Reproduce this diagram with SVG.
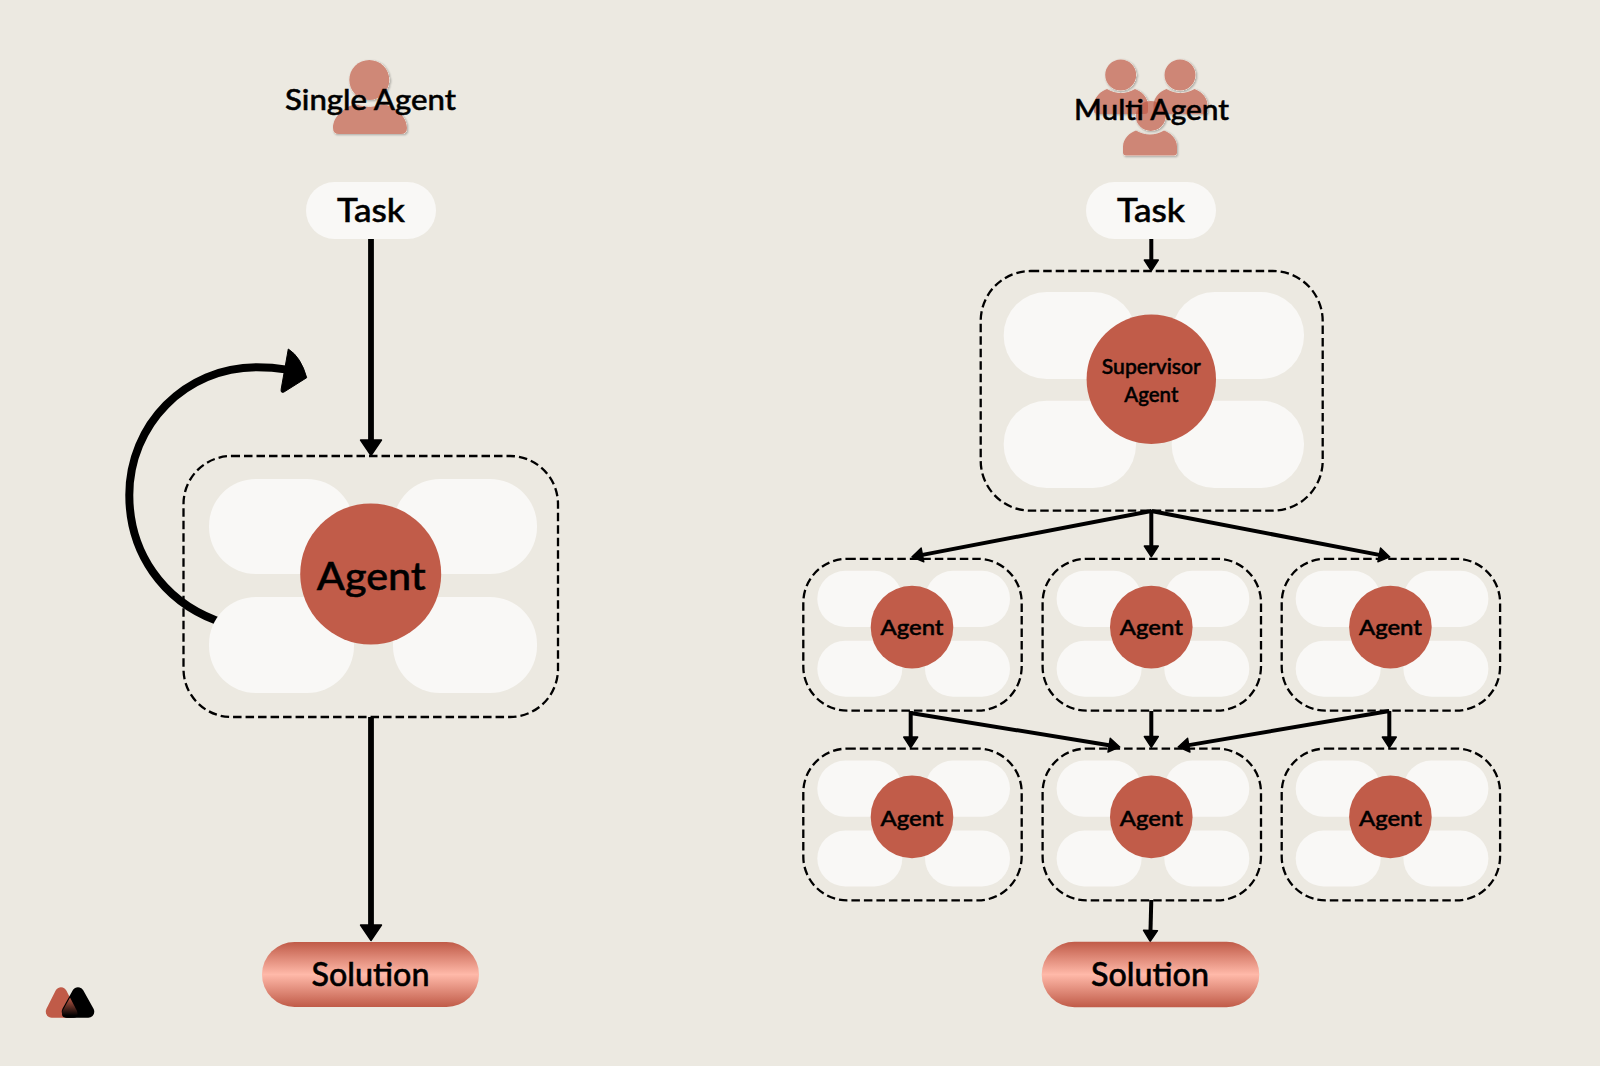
<svg xmlns="http://www.w3.org/2000/svg" xmlns:xlink="http://www.w3.org/1999/xlink" width="1600" height="1066" viewBox="0 0 1600 1066">
<style>
text{font-family:"Lato","Liberation Sans",sans-serif;font-weight:500;fill:#000;text-anchor:middle;stroke:#000;stroke-width:.5}
.box{fill:none;stroke:#000;stroke-width:2.3;stroke-dasharray:8.5 4}
.pill{fill:#f9f8f6}
.core{fill:#c15c49}
.icon{fill:#c05b48;fill-opacity:.7}
.big{fill:none;stroke:#000;stroke-width:5.8;marker-end:url(#bigHead)}
.sm{fill:none;stroke:#000;stroke-width:4;marker-end:url(#smHead)}
</style>
<defs>
<linearGradient id="metal" x1="0" y1="0" x2="0" y2="1">
<stop offset="0" stop-color="#c05b48"/><stop offset=".5" stop-color="#ffb9a9"/><stop offset="1" stop-color="#c05b48"/>
</linearGradient>
<linearGradient id="lens" x1="0" y1="0" x2="0" y2="1">
<stop offset="0" stop-color="#c05b48"/><stop offset=".9" stop-color="#000"/>
</linearGradient>
<filter id="soft" x="-20%" y="-20%" width="140%" height="140%">
<feComponentTransfer in="SourceAlpha" result="solid"><feFuncA type="linear" slope="10"/></feComponentTransfer>
<feGaussianBlur in="solid" stdDeviation=".8"/>
<feOffset dx="1" dy="1.2" result="blurred"/>
<feComposite in="blurred" in2="solid" operator="out"/>
<feComponentTransfer result="edge"><feFuncA type="linear" slope=".28"/></feComponentTransfer>
<feMerge><feMergeNode in="edge"/><feMergeNode in="SourceGraphic"/></feMerge>
</filter>
<marker id="bigHead" markerUnits="userSpaceOnUse" viewBox="-2 -14 22 28" markerWidth="22" markerHeight="28" refX="0" refY="0" orient="auto"><path d="M0,-10.5 L15.5,0 L0,10.5 Z" fill="#000" stroke="#000" stroke-width="1.4" stroke-linejoin="round"/></marker>
<marker id="smHead" markerUnits="userSpaceOnUse" viewBox="-2 -11 17 22" markerWidth="17" markerHeight="22" refX="0" refY="0" orient="auto"><path d="M0,-7 L10.8,0 L0,7 Z" fill="#000" stroke="#000" stroke-width="1.4" stroke-linejoin="round"/></marker>
<path id="shoulders" d="M-27,16 C-27,8 -20,2 -14,0 Q0,8 14,0 C20,2 27,8 27,16 V22 Q27,25 24,25 H-24 Q-27,25 -27,22 Z"/>
<g id="tile">
<rect class="box" x="0" y="0" width="218.4" height="151.8" rx="44"/>
<rect class="pill" x="14" y="12" width="85" height="56.2" rx="28"/>
<rect class="pill" x="121.7" y="12" width="85" height="56.2" rx="28"/>
<rect class="pill" x="14" y="81.9" width="85" height="56" rx="28"/>
<rect class="pill" x="121.7" y="81.9" width="85" height="56" rx="28"/>
<circle class="core" cx="108.7" cy="68.3" r="41.3"/>
</g>
</defs>
<rect width="1600" height="1066" fill="#ece9e1"/>
<g id="connectors">
<path class="big" d="M371,239 V440"/>
<path class="big" d="M371,717 V925"/>
<path d="M225,625 L215,620 C163.3,600 129.3,553.3 129.3,495 C129.3,425 185,367.3 256.7,367.3 C266.7,367.3 276.7,368 287,369.6" fill="none" stroke="#000" stroke-width="8"/>
<path d="M288.3,349 Q301,357 306.7,377.7 L284,392 Q280.5,393.5 281.2,389 Z" fill="#000" stroke="#000" stroke-width="1" stroke-linejoin="round"/>
<path class="sm" d="M1151.3,239 V260"/>
<path class="sm" d="M1151.3,510 V546"/>
<path class="sm" d="M1151.3,511 L922.5,554.9"/>
<path class="sm" d="M1151.3,511 L1379.2,554.9"/>
<path class="sm" d="M910.7,711 V737"/>
<path class="sm" d="M910.7,713 L1109.1,745.2"/>
<path class="sm" d="M1151.3,711 V736.5"/>
<path class="sm" d="M1389.3,711 L1188.8,745.15"/>
<path class="sm" d="M1389.3,711 V737"/>
<path class="sm" d="M1151.3,900 L1150.5,930.5"/>
</g>
<g id="single-icon" filter="url(#soft)">
<circle cx="369.3" cy="80" r="20" fill="#cf8877"/>
<path d="M333,128 C333,116 345,107 355,104 Q369.5,110 384,104 C395,107 407,116 407,128 Q407,134 401,134 L339,134 Q333,134 333,128 Z" fill="#cf8877"/>
</g>
<g id="single-title"><text x="370.5" y="109.5" font-size="29" textLength="171" lengthAdjust="spacingAndGlyphs">Single Agent</text></g>
<g id="single-task">
<rect class="pill" x="306" y="182" width="130" height="57" rx="28.5"/>
<text x="371" y="221.5" font-size="33" textLength="68" lengthAdjust="spacingAndGlyphs">Task</text>
</g>
<g id="single-agent">
<rect class="box" x="183.5" y="456" width="374.5" height="261" rx="48"/>
<rect class="pill" x="209" y="479" width="145" height="95" rx="47"/>
<rect class="pill" x="393" y="479" width="144" height="95" rx="47"/>
<rect class="pill" x="209" y="597" width="145" height="96" rx="47"/>
<rect class="pill" x="393" y="597" width="144" height="96" rx="47"/>
<circle class="core" cx="370.7" cy="574" r="70.5"/>
<text x="371.3" y="590" font-size="39" textLength="109" lengthAdjust="spacingAndGlyphs">Agent</text>
</g>
<g id="single-solution">
<rect x="262" y="942" width="217" height="65" rx="32.5" fill="url(#metal)"/>
<text x="370.5" y="986" font-size="32" textLength="118" lengthAdjust="spacingAndGlyphs">Solution</text>
</g>
<g id="multi-icon" filter="url(#soft)">
<circle class="icon" cx="1120.7" cy="75" r="15.5"/>
<circle class="icon" cx="1180" cy="75" r="15.5"/>
<use href="#shoulders" class="icon" x="1121" y="89"/>
<use href="#shoulders" class="icon" x="1180.5" y="89"/>
<circle class="icon" cx="1150.7" cy="116" r="15"/>
<use href="#shoulders" class="icon" x="1150" y="130.5"/>
</g>
<g id="multi-title"><text x="1151.5" y="119.5" font-size="29" textLength="155" lengthAdjust="spacingAndGlyphs">Multi Agent</text></g>
<g id="multi-task">
<rect class="pill" x="1086" y="182" width="130" height="57" rx="28.5"/>
<text x="1151" y="221.5" font-size="33" textLength="68" lengthAdjust="spacingAndGlyphs">Task</text>
</g>
<g id="supervisor">
<rect class="box" x="980.7" y="271" width="342" height="239.7" rx="50"/>
<rect class="pill" x="1003.7" y="292" width="132.3" height="87" rx="43"/>
<rect class="pill" x="1171.7" y="292" width="132.3" height="87" rx="43"/>
<rect class="pill" x="1003.7" y="400.7" width="132.3" height="87.3" rx="43"/>
<rect class="pill" x="1171.7" y="400.7" width="132.3" height="87.3" rx="43"/>
<circle class="core" cx="1151.3" cy="379.3" r="64.7"/>
<text x="1151.3" y="374" font-size="20.5" textLength="99" lengthAdjust="spacingAndGlyphs">Supervisor</text>
<text x="1151.3" y="401.7" font-size="20.5" textLength="54" lengthAdjust="spacingAndGlyphs">Agent</text>
</g>
<g id="agent-1" transform="translate(803.3 558.8)"><use href="#tile"/><text x="108.7" y="76.3" font-size="22" textLength="63" lengthAdjust="spacingAndGlyphs">Agent</text></g>
<g id="agent-2" transform="translate(1042.6 558.8)"><use href="#tile"/><text x="108.7" y="76.3" font-size="22" textLength="63" lengthAdjust="spacingAndGlyphs">Agent</text></g>
<g id="agent-3" transform="translate(1281.7 558.8)"><use href="#tile"/><text x="108.7" y="76.3" font-size="22" textLength="63" lengthAdjust="spacingAndGlyphs">Agent</text></g>
<g id="agent-4" transform="translate(803.3 748.6)"><use href="#tile"/><text x="108.7" y="77.3" font-size="22" textLength="63" lengthAdjust="spacingAndGlyphs">Agent</text></g>
<g id="agent-5" transform="translate(1042.6 748.6)"><use href="#tile"/><text x="108.7" y="77.3" font-size="22" textLength="63" lengthAdjust="spacingAndGlyphs">Agent</text></g>
<g id="agent-6" transform="translate(1281.7 748.6)"><use href="#tile"/><text x="108.7" y="77.3" font-size="22" textLength="63" lengthAdjust="spacingAndGlyphs">Agent</text></g>
<g id="multi-solution">
<rect x="1041.7" y="941.7" width="217.6" height="65.6" rx="32.8" fill="url(#metal)"/>
<text x="1150" y="986" font-size="32" textLength="118" lengthAdjust="spacingAndGlyphs">Solution</text>
</g>
<g id="logo">
<path d="M51.7,1011.7 H70.3 L61,993.3 Z" fill="#c05b48" stroke="#c05b48" stroke-width="12" stroke-linejoin="round"/>
<path d="M67.7,1011.7 H88.3 L78,993.3 Z" fill="#000" stroke="#000" stroke-width="12" stroke-linejoin="round"/>
<path d="M70,997.5 L62.5,1011 Q60.5,1017.7 66,1017.7 L74,1017.7 Q79,1017.7 77,1011 Z" fill="url(#lens)"/>
</g>
</svg>
